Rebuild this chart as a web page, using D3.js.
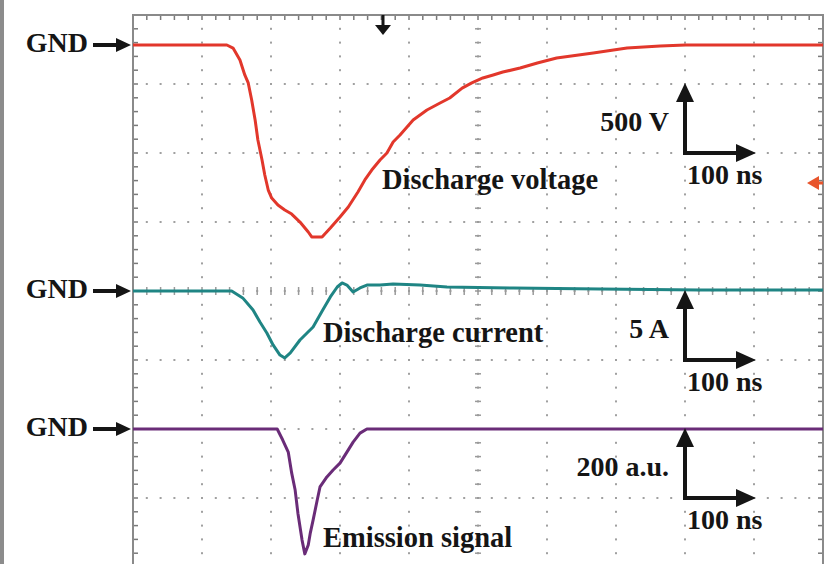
<!DOCTYPE html>
<html>
<head>
<meta charset="utf-8">
<script src="https://cdn.jsdelivr.net/npm/d3@7"></script>
<style>
  body { margin: 0; background: #fff; }
  svg { display: block; }
  text { font-family: "Liberation Serif", "Times New Roman", serif; font-weight: bold; fill: #151515; }
</style>
</head>
<body>
<div id="chart"></div>
<script>
// time axis in ns, 100 ns / div
var voltTime = [0, 136, 145, 155, 162, 167, 172, 177, 181, 187, 191, 196, 201, 210, 220, 230, 242, 254, 259, 274, 286, 300, 312, 326, 336, 346, 358, 368, 377, 387, 406, 426, 445, 459, 477, 491, 507, 522, 536, 561, 586, 614, 667, 716, 764, 801, 1000]
var voltage  = [0, 0, -22, -109, -217, -275, -399, -543, -688, -833, -942, -1051, -1109, -1159, -1196, -1225, -1283, -1355, -1391, -1391, -1326, -1246, -1174, -1065, -978, -906, -833, -783, -703, -652, -543, -471, -420, -384, -312, -275, -239, -217, -196, -167, -130, -94, -58, -22, -7, 0, 0]

var currTime = [0, 143, 159, 174, 184, 194, 203, 213, 220, 228, 242, 261, 275, 286, 296, 303, 310, 319, 329, 339, 358, 377, 416, 455, 551, 677, 822, 1000]
var current  = [0, 0, -0.5, -1.38, -2.25, -3.04, -3.91, -4.64, -4.85, -4.49, -3.55, -2.61, -1.38, -0.43, 0.29, 0.58, 0.43, -0.07, 0.22, 0.43, 0.43, 0.51, 0.43, 0.29, 0.22, 0.14, 0.07, 0.07]

var emisTime = [0, 209, 217, 225, 230, 235, 239, 245, 249, 254, 257, 261, 267, 271, 281, 290, 300, 310, 319, 329, 339, 1000]
var emission = [0, 0, -32, -67, -128, -177, -244, -322, -362, -336, -301, -264, -206, -168, -139, -119, -99, -67, -38, -12, 0, 0]

var traceLabels = ['Discharge voltage', 'Discharge current', 'Emission signal']
var scaleLabels = ['500 V', '5 A', '200 a.u.']
var timeLabel = '100 ns'

var width = 835
var height = 564

var svg = d3.select('#chart')
    .append('svg')
    .attr('width', width)
    .attr('height', height);

svg.append('rect')
    .attr('x', 0).attr('y', 0).attr('width', 4).attr('height', height)
    .attr('fill', '#8c8c8c');

// grid: 10 x 8 divisions
var gx = d3.scaleLinear().domain([0, 10]).range([133, 823]);
var gy = d3.scaleLinear().domain([0, 8]).range([15, 567]);

var x = d3.scaleLinear().domain([0, 1000]).range([133, 823]);
var yV = d3.scaleLinear().domain([0, -500]).range([45, 45 + 69]);
var yI = d3.scaleLinear().domain([0, -5]).range([gy(4), gy(5)]);
var yE = d3.scaleLinear().domain([0, -200]).range([gy(6), gy(7)]);

var grid = svg.append('g');
var minorX = d3.range(0, 50.01, 1).map(function(d) { return d / 5; });
var minorY = d3.range(0, 40.01, 1).map(function(d) { return d / 5; });

// dotted major lines
d3.range(1, 10).forEach(function(i) {
    grid.selectAll(null)
        .data(minorY)
        .enter()
        .append('rect')
        .attr('x', gx(i) - 1)
        .attr('y', function(d) { return gy(d) - 1; })
        .attr('width', 2).attr('height', 2)
        .attr('fill', '#a0a0a0');
});
d3.range(1, 8).forEach(function(j) {
    grid.selectAll(null)
        .data(minorX)
        .enter()
        .append('rect')
        .attr('x', function(d) { return gx(d) - 1; })
        .attr('y', gy(j) - 1)
        .attr('width', 2).attr('height', 2)
        .attr('fill', '#a0a0a0');
});

// center axes ticks
grid.selectAll(null)
    .data(minorY)
    .enter()
    .append('line')
    .attr('x1', gx(5) - 3).attr('x2', gx(5) + 3)
    .attr('y1', function(d) { return gy(d); })
    .attr('y2', function(d) { return gy(d); })
    .attr('stroke', '#9a9a9a').attr('stroke-width', 1.5);
grid.selectAll(null)
    .data(minorX)
    .enter()
    .append('line')
    .attr('x1', function(d) { return gx(d); })
    .attr('x2', function(d) { return gx(d); })
    .attr('y1', gy(4) - 4).attr('y2', gy(4) + 4)
    .attr('stroke', '#9a9a9a').attr('stroke-width', 1.5);

// frame ticks
grid.selectAll(null)
    .data(minorX)
    .enter()
    .append('line')
    .attr('x1', function(d) { return gx(d); })
    .attr('x2', function(d) { return gx(d); })
    .attr('y1', gy(0)).attr('y2', gy(0) + 5)
    .attr('stroke', '#7a7a7a').attr('stroke-width', 1.5);
grid.selectAll(null)
    .data(minorY)
    .enter()
    .append('line')
    .attr('x1', gx(0)).attr('x2', gx(0) + 5)
    .attr('y1', function(d) { return gy(d); })
    .attr('y2', function(d) { return gy(d); })
    .attr('stroke', '#7a7a7a').attr('stroke-width', 1.5);
grid.selectAll(null)
    .data(minorY)
    .enter()
    .append('line')
    .attr('x1', gx(10) - 5).attr('x2', gx(10))
    .attr('y1', function(d) { return gy(d); })
    .attr('y2', function(d) { return gy(d); })
    .attr('stroke', '#7a7a7a').attr('stroke-width', 1.5);

grid.append('path')
    .attr('d', 'M' + gx(0) + ',' + height + 'V' + gy(0) + 'H' + gx(10) + 'V' + height)
    .attr('fill', 'none')
    .attr('stroke', '#8a8a8a')
    .attr('stroke-width', 2);

// traces
function drawTrace(times, vals, yScale, color) {
    var line = d3.line()
        .x(function(d, i) { return x(times[i]); })
        .y(function(d) { return yScale(d); });
    svg.append('path')
        .datum(vals)
        .attr('d', line)
        .attr('fill', 'none')
        .attr('stroke', color)
        .attr('stroke-width', 3)
        .attr('stroke-linejoin', 'round');
}
drawTrace(voltTime, voltage, yV, '#e2372b');
drawTrace(currTime, current, yI, '#1f8584');
drawTrace(emisTime, emission, yE, '#6a2c78');

// GND markers
var gnds = [yV(0), yI(0), yE(0)];
gnds.forEach(function(g) {
    svg.append('text')
        .attr('x', 88).attr('y', g + 7)
        .attr('text-anchor', 'end')
        .attr('font-size', 28)
        .text('GND');
    svg.append('rect')
        .attr('x', 93).attr('y', g - 2).attr('width', 25).attr('height', 4)
        .attr('fill', '#151515');
    svg.append('path')
        .attr('d', 'M116,' + (g - 7) + 'L131,' + g + 'L116,' + (g + 7) + 'Z')
        .attr('fill', '#151515');
});

// trigger marker
svg.append('rect').attr('x', 381.5).attr('y', 15).attr('width', 3).attr('height', 12).attr('fill', '#151515');
svg.append('path').attr('d', 'M375,25L391,25L383,35Z').attr('fill', '#151515');
// level marker
svg.append('rect').attr('x', 816).attr('y', 181.5).attr('width', 7).attr('height', 3).attr('fill', '#e8552c');
svg.append('path').attr('d', 'M807,183L819,176L819,190Z').attr('fill', '#e8552c');

// trace labels
var labelPos = [[382, 189], [323, 342], [323, 547]];
svg.selectAll('text.lbl')
    .data(traceLabels)
    .enter()
    .append('text')
    .attr('class', 'lbl')
    .attr('x', function(d, i) { return labelPos[i][0]; })
    .attr('y', function(d, i) { return labelPos[i][1]; })
    .attr('font-size', 28.5)
    .text(function(d) { return d; });

// scale bars
var barRows = [2, 5, 7];
barRows.forEach(function(r, i) {
    var cx = gx(8), cy = gy(r), top = gy(r - 1);
    var g = svg.append('g');
    g.append('line').attr('x1', cx).attr('x2', cx).attr('y1', cy + 2).attr('y2', top + 14)
        .attr('stroke', '#151515').attr('stroke-width', 4);
    g.append('path').attr('d', 'M' + (cx - 9) + ',' + (top + 18) + 'L' + cx + ',' + (top - 1) + 'L' + (cx + 9) + ',' + (top + 18) + 'Z')
        .attr('fill', '#151515');
    g.append('line').attr('x1', cx - 2).attr('x2', gx(9) - 14).attr('y1', cy).attr('y2', cy)
        .attr('stroke', '#151515').attr('stroke-width', 4);
    g.append('path').attr('d', 'M' + (gx(9) - 18) + ',' + (cy - 9) + 'L' + (gx(9) + 2) + ',' + cy + 'L' + (gx(9) - 18) + ',' + (cy + 9) + 'Z')
        .attr('fill', '#151515');
    g.append('text')
        .attr('x', cx - 16).attr('y', cy - 22)
        .attr('text-anchor', 'end')
        .attr('font-size', 28)
        .text(scaleLabels[i]);
    g.append('text')
        .attr('x', cx + 2).attr('y', cy + 31)
        .attr('font-size', 28)
        .text(timeLabel);
});
</script>
</body>
</html>
